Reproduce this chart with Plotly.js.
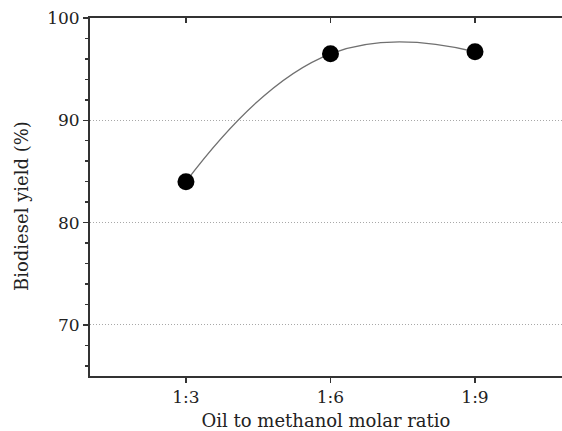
<!DOCTYPE html>
<html>
<head>
<meta charset="utf-8">
<script src="https://cdn.plot.ly/plotly-3.0.1.min.js"></script>
<style>html,body{margin:0;padding:0;background:#fff}#chart{width:562px;height:431px}</style>
</head>
<body>
<div id="chart"></div>
<script>
const ratios = ["1:3", "1:6", "1:9"];
const yieldPct = [84.0, 96.5, 96.7];
const yTicks = [70, 80, 90, 100];
const xTitle = "Oil to methanol molar ratio";
const yTitle = "Biodiesel yield (%)";

const fam = "DejaVu Serif, serif";
const xIdx = ratios.map((_, i) => i);

const data = [{
  x: xIdx, y: yieldPct, type: "scatter", mode: "lines+markers",
  line: {shape: "spline", smoothing: 1.3, color: "#707070", width: 1.3},
  marker: {size: 17, color: "#000"},
  cliponaxis: false, showlegend: false, hoverinfo: "skip"
}, {x: [], y: [], xaxis: "x2", yaxis: "y", showlegend: false, hoverinfo: "skip"}];

const layout = {
  width: 562, height: 431,
  margin: {l: 90, r: 0, t: 18, b: 55},
  paper_bgcolor: "#fff", plot_bgcolor: "#fff",
  font: {family: fam, color: "#222", size: 17},
  xaxis: {
    range: [-0.664, 2.602], tickvals: xIdx, ticktext: ratios,
    showline: true, linecolor: "#333", linewidth: 2,
    ticks: "outside", ticklen: 5, tickwidth: 1.5, tickcolor: "#333",
    tickfont: {family: fam, size: 17, color: "#222"},
    showgrid: false, zeroline: false,
    title: {text: xTitle, font: {family: fam, size: 18, color: "#222"}, standoff: 14}
  },
  xaxis2: {
    overlaying: "x", matches: "x", side: "top", anchor: "y",
    range: [-0.664, 2.602], tickvals: xIdx, showticklabels: false,
    showline: true, linecolor: "#333", linewidth: 2,
    ticks: "inside", ticklen: 5, tickwidth: 1.5, tickcolor: "#333",
    showgrid: false, zeroline: false
  },
  yaxis: {
    range: [65, 100], tickvals: yTicks,
    showline: true, linecolor: "#333", linewidth: 2,
    ticks: "outside", ticklen: 5, tickwidth: 1.5, tickcolor: "#333",
    tickfont: {family: fam, size: 17, color: "#222"},
    minor: {dtick: 2, ticks: "outside", ticklen: 3, tickwidth: 1.5, tickcolor: "#333", showgrid: false},
    showgrid: true, gridcolor: "#a8a8a8", griddash: "1px,2px", gridwidth: 1,
    zeroline: false
  },
  annotations: [{
    text: yTitle, textangle: -90, showarrow: false,
    xref: "paper", yref: "paper", x: -0.144, y: 0.475,
    xanchor: "center", yanchor: "middle",
    font: {family: fam, size: 18, color: "#222"}
  }]
};

Plotly.newPlot("chart", data, layout, {staticPlot: true});
</script>
</body>
</html>
